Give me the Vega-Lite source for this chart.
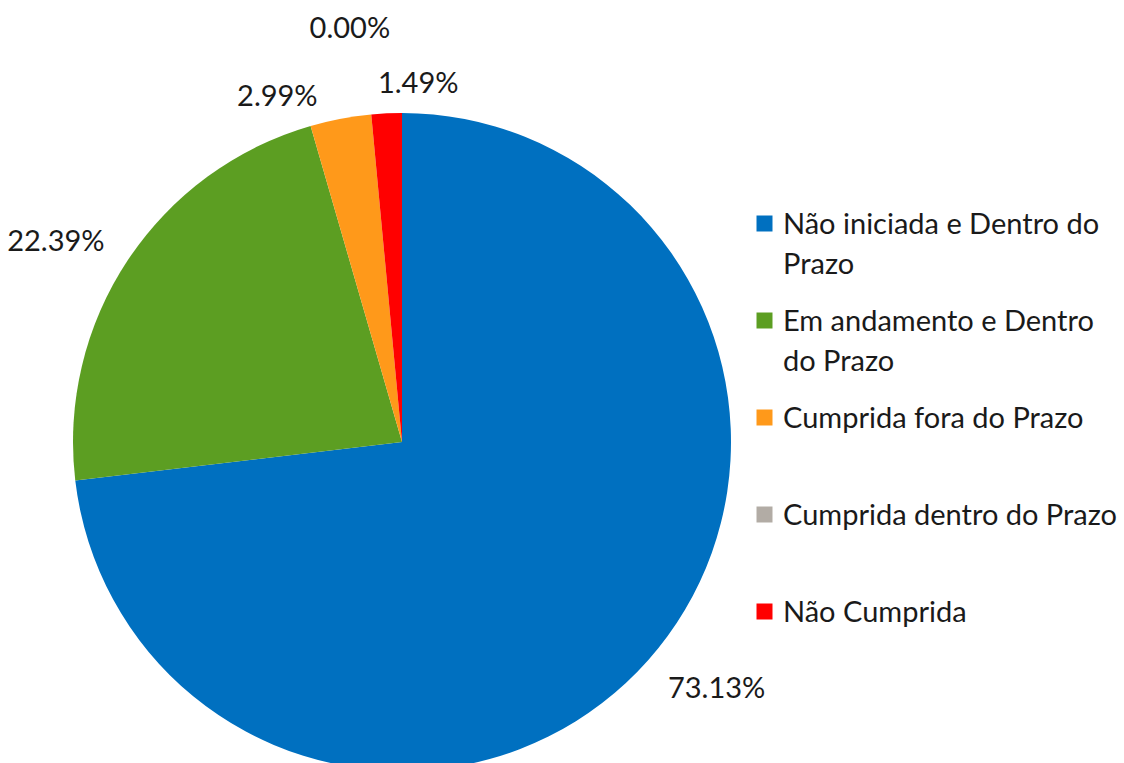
{
  "$schema": "https://vega.github.io/schema/vega-lite/v6.json",
  "width": 804,
  "height": 658,
  "autosize": {"type": "none"},
  "padding": {"left": 0, "top": 113, "right": 320, "bottom": 0},
  "background": "white",
  "data": {
    "values": [
      {"categoria": "Não iniciada e Dentro do Prazo", "pct": 0.7313, "i": 1},
      {"categoria": "Em andamento e Dentro do Prazo", "pct": 0.2239, "i": 2},
      {"categoria": "Cumprida fora do Prazo", "pct": 0.0299, "i": 3},
      {"categoria": "Cumprida dentro do Prazo", "pct": 0.0, "i": 4},
      {"categoria": "Não Cumprida", "pct": 0.0149, "i": 5}
    ]
  },
  "config": {
    "view": {"stroke": null},
    "style": {"guide-label": {"lineHeight": 40}}
  },
  "layer": [
    {
      "mark": {"type": "arc", "radius": 329},
      "encoding": {
        "theta": {"field": "pct", "type": "quantitative", "stack": true},
        "order": {"field": "i", "type": "quantitative"},
        "color": {
          "field": "categoria",
          "type": "nominal",
          "sort": ["Não iniciada e Dentro do Prazo", "Em andamento e Dentro do Prazo", "Cumprida fora do Prazo", "Cumprida dentro do Prazo", "Não Cumprida"],
          "scale": {
            "domain": ["Não iniciada e Dentro do Prazo", "Em andamento e Dentro do Prazo", "Cumprida fora do Prazo", "Cumprida dentro do Prazo", "Não Cumprida"],
            "range": ["#0070C0", "#5C9E22", "#FF991A", "#B2ACA5", "#FF0000"]
          },
          "legend": {
            "title": null,
            "orient": "none",
            "legendX": 750,
            "legendY": 83,
            "padding": 0,
            "symbolType": "M-1,0.625H1V2.625H-1Z",
            "symbolSize": 256,
            "symbolStrokeWidth": 0,
            "labelFont": "Lato",
            "labelFontSize": 29,
            "labelColor": "#1a1a1a",
            "labelOffset": 4,
            "labelLimit": 400,
            "labelBaseline": "top",
            "rowPadding": 13,
            "labelExpr": "datum.label === 'Não iniciada e Dentro do Prazo' ? ['Não iniciada e Dentro do', 'Prazo'] : datum.label === 'Em andamento e Dentro do Prazo' ? ['Em andamento e Dentro', 'do Prazo'] : [datum.label, '']"
          }
        }
      }
    },
    {
      "mark": {"type": "text", "radius": 400, "thetaOffset": -0.061, "font": "Lato", "fontSize": 29, "color": "#1a1a1a", "align": "center", "baseline": "middle"},
      "encoding": {
        "theta": {"field": "pct", "type": "quantitative", "stack": true},
        "order": {"field": "i", "type": "quantitative"},
        "detail": {"field": "categoria", "type": "nominal"},
        "text": {
          "condition": {"test": "datum.categoria === 'Não iniciada e Dentro do Prazo' || datum.categoria === 'Em andamento e Dentro do Prazo'", "field": "pct", "type": "quantitative", "format": ".2%"},
          "value": ""
        }
      }
    },
    {
      "mark": {"type": "text", "radius": 367, "thetaOffset": -0.159, "font": "Lato", "fontSize": 29, "color": "#1a1a1a", "align": "center", "baseline": "middle"},
      "encoding": {
        "theta": {"field": "pct", "type": "quantitative", "stack": true},
        "order": {"field": "i", "type": "quantitative"},
        "detail": {"field": "categoria", "type": "nominal"},
        "text": {
          "condition": {"test": "datum.categoria === 'Cumprida fora do Prazo'", "field": "pct", "type": "quantitative", "format": ".2%"},
          "value": ""
        }
      }
    },
    {
      "mark": {"type": "text", "radius": 416, "thetaOffset": -0.032, "font": "Lato", "fontSize": 29, "color": "#1a1a1a", "align": "center", "baseline": "middle"},
      "encoding": {
        "theta": {"field": "pct", "type": "quantitative", "stack": true},
        "order": {"field": "i", "type": "quantitative"},
        "detail": {"field": "categoria", "type": "nominal"},
        "text": {
          "condition": {"test": "datum.categoria === 'Cumprida dentro do Prazo'", "field": "pct", "type": "quantitative", "format": ".2%"},
          "value": ""
        }
      }
    },
    {
      "mark": {"type": "text", "radius": 358, "thetaOffset": 0.092, "font": "Lato", "fontSize": 29, "color": "#1a1a1a", "align": "center", "baseline": "middle"},
      "encoding": {
        "theta": {"field": "pct", "type": "quantitative", "stack": true},
        "order": {"field": "i", "type": "quantitative"},
        "detail": {"field": "categoria", "type": "nominal"},
        "text": {
          "condition": {"test": "datum.categoria === 'Não Cumprida'", "field": "pct", "type": "quantitative", "format": ".2%"},
          "value": ""
        }
      }
    }
  ]
}
